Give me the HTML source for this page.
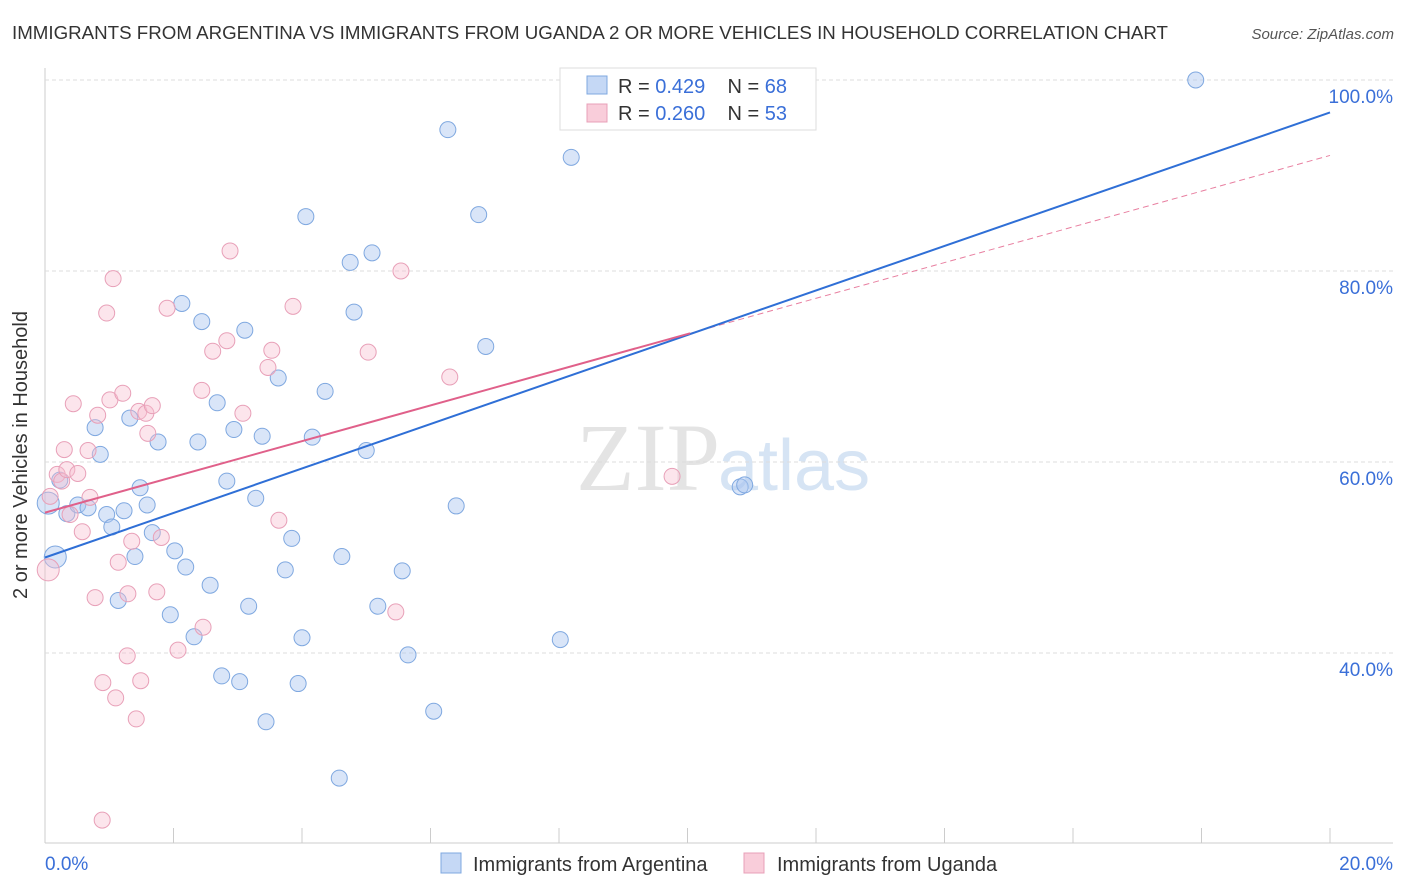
<!DOCTYPE html>
<html><head><meta charset="utf-8"><style>
body{margin:0;background:#fff;font-family:"Liberation Sans",sans-serif}
svg{display:block}
</style></head><body>
<svg id="c" width="1406" height="892">
<text x="12" y="39" font-size="18" fill="#333" textLength="1156" lengthAdjust="spacingAndGlyphs">IMMIGRANTS FROM ARGENTINA VS IMMIGRANTS FROM UGANDA 2 OR MORE VEHICLES IN HOUSEHOLD CORRELATION CHART</text>
<text x="1394" y="39" font-size="15" fill="#555" font-style="italic" text-anchor="end">Source: ZipAtlas.com</text>
<text x="720" y="490" font-size="96" fill="#e4e4e4" font-family="Liberation Serif,serif" text-anchor="end">ZIP</text>
<text x="718" y="490" font-size="72" fill="#d6e4f4">atlas</text>
<g id="grid"></g><g id="pts"></g><g id="lines"></g>
<text x="27" y="455" font-size="20" fill="#333" text-anchor="middle" transform="rotate(-90 27 455)">2 or more Vehicles in Household</text>
<text x="45" y="870" font-size="19" fill="#3a6fd8">0.0%</text>
<text x="1393" y="870" font-size="19" fill="#3a6fd8" text-anchor="end">20.0%</text>
<g>
<rect x="560" y="68" width="256" height="62" fill="#fff" stroke="#ddd"/>
<rect x="587" y="76" width="20" height="18" fill="#c5d8f5" stroke="#7fa8e0"/>
<rect x="587" y="104" width="20" height="18" fill="#f9cdda" stroke="#e8a0b8"/>
<text x="618" y="93" font-size="20" fill="#333">R = <tspan fill="#3a6fd8">0.429</tspan>&#160;&#160;&#160;&#160;N = <tspan fill="#3a6fd8">68</tspan></text>
<text x="618" y="120" font-size="20" fill="#333">R = <tspan fill="#3a6fd8">0.260</tspan>&#160;&#160;&#160;&#160;N = <tspan fill="#3a6fd8">53</tspan></text>
</g>
<g>
<rect x="441" y="853" width="20" height="20" fill="#c5d8f5" stroke="#7fa8e0"/>
<text x="473" y="871" font-size="20" fill="#333">Immigrants from Argentina</text>
<rect x="744" y="853" width="20" height="20" fill="#f9cdda" stroke="#e8a0b8"/>
<text x="777" y="871" font-size="20" fill="#333">Immigrants from Uganda</text>
</g>
</svg>
<script>
const yTicks=[100,80,60,40];
const xTickCount=10;
const blueX=[0.16,0.05,0.23,0.34,0.51,0.67,0.78,0.86,0.96,1.04,1.14,1.23,1.32,1.40,1.48,1.59,1.67,1.76,1.95,2.02,2.13,2.19,2.32,2.38,2.44,2.57,2.68,2.75,2.83,2.94,3.03,3.11,3.17,3.28,3.38,3.44,3.63,3.74,3.84,3.94,4.00,4.06,4.16,4.36,4.58,4.62,4.75,4.81,5.00,5.09,5.18,5.56,5.65,6.05,6.27,6.40,6.75,6.86,8.02,8.19,10.82,10.89,17.91,8.95,9.59];
const blueY=[50.05,55.7,58.1,54.6,55.5,55.2,63.6,60.8,54.5,53.2,45.5,54.9,64.6,50.1,57.3,55.5,52.6,62.1,44.0,50.7,76.6,49.0,41.7,62.1,74.7,47.1,66.2,37.6,58.0,63.4,37.0,73.8,44.9,56.2,62.7,32.8,68.8,48.7,52.0,36.8,41.6,85.7,62.6,67.4,26.9,50.1,80.9,75.7,61.2,81.9,44.9,48.6,39.8,33.9,94.8,55.4,85.9,72.1,41.4,91.9,57.4,57.6,100.0,100.2,100.0];
const pinkX=[0.05,0.08,0.19,0.26,0.30,0.34,0.39,0.44,0.51,0.58,0.67,0.70,0.78,0.82,0.89,0.90,0.96,1.01,1.06,1.10,1.14,1.21,1.28,1.29,1.35,1.42,1.46,1.49,1.57,1.60,1.67,1.74,1.81,1.90,2.07,2.44,2.46,2.61,2.83,2.88,3.08,3.47,3.53,3.64,3.86,5.03,5.46,5.54,6.30,9.76];
const pinkY=[48.7,56.4,58.7,58.0,61.3,59.2,54.5,66.1,58.8,52.7,61.2,56.3,45.8,64.9,22.5,36.9,75.6,66.5,79.2,35.3,49.5,67.2,39.7,46.2,51.7,33.1,65.3,37.1,65.1,63.0,65.9,46.4,52.1,76.1,40.3,67.5,42.7,71.6,72.7,82.1,65.1,69.9,71.7,53.9,76.3,71.5,44.3,80.0,68.9,58.5];
const blueFit=[50.0,96.6];
const pinkFit=[54.7,92.1];
const pinkSolidEnd=10.04;
const NS='http://www.w3.org/2000/svg';
const X=v=>45+v/20*1285, Y=v=>80+(100-v)*9.55;
function mk(p,t,a){const e=document.createElementNS(NS,t);for(const k in a)e.setAttribute(k,a[k]);p.appendChild(e);return e;}
const g=document.getElementById('grid');
mk(g,'line',{x1:45,y1:68,x2:45,y2:843,stroke:'#ccc'});
mk(g,'line',{x1:45,y1:843,x2:1393,y2:843,stroke:'#ccc'});
for(let i=0;i<=xTickCount;i++){const t=mk(g,'line',{x1:X(i*2),y1:828,x2:X(i*2),y2:843,stroke:'#ccc'});

}
yTicks.forEach(v=>{const l=mk(g,'line',{x1:45,y1:Y(v),x2:1393,y2:Y(v),stroke:'#ddd','stroke-dasharray':'4 3'});


const t=mk(g,'text',{x:1393,y:Y(v)+23,'font-size':19,fill:'#3a6fd8','text-anchor':'end'});t.textContent=v.toFixed(1)+'%';

});
const p=document.getElementById('pts');
blueX.forEach((x,i)=>{const c=mk(p,'circle',{cx:X(x),cy:Y(blueY[i]),r:i<2?11:8,fill:'rgba(170,198,240,0.45)',stroke:'#7fa8e0','stroke-width':1});

});
pinkX.forEach((x,i)=>{const c=mk(p,'circle',{cx:X(x),cy:Y(pinkY[i]),r:i<1?11:8,fill:'rgba(248,190,208,0.4)',stroke:'#e8a0b8','stroke-width':1});

});
const L=document.getElementById('lines');
const pf=x=>pinkFit[0]+(pinkFit[1]-pinkFit[0])*x/20;
const d=mk(L,'line',{x1:X(pinkSolidEnd),y1:Y(pf(pinkSolidEnd)),x2:X(20),y2:Y(pinkFit[1]),stroke:'#e87fa0','stroke-width':1,'stroke-dasharray':'6 4'});


const b=mk(L,'line',{x1:X(0),y1:Y(blueFit[0]),x2:X(20),y2:Y(blueFit[1]),stroke:'#2f6fd6','stroke-width':2});


const s=mk(L,'line',{x1:X(0),y1:Y(pinkFit[0]),x2:X(pinkSolidEnd),y2:Y(pf(pinkSolidEnd)),stroke:'#e0608a','stroke-width':2});


</script>
</body></html>
